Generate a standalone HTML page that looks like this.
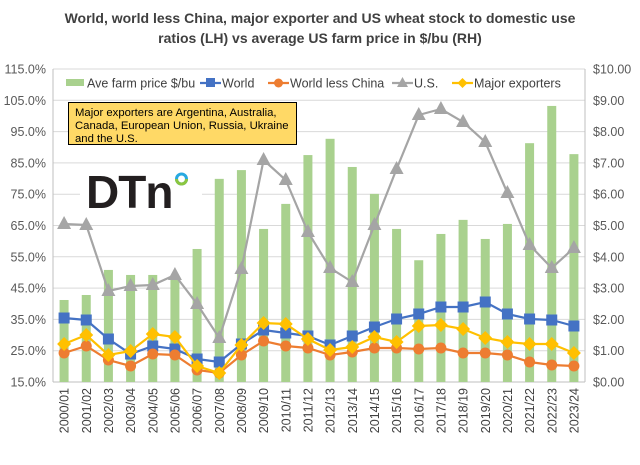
<!DOCTYPE html><html><head><style>body{margin:0;background:#fff}</style></head><body>
<svg id="s" width="640" height="460" xmlns="http://www.w3.org/2000/svg" font-family="Liberation Sans, sans-serif"></svg>
<script>
var s='';
s+='<rect width="640" height="460" fill="#fff"/>';
s+='<text x="320" y="23" text-anchor="middle" font-size="14" font-weight="bold" fill="#404040">World, world less China, major exporter and US wheat stock to  domestic use</text>';
s+='<text x="320" y="43" text-anchor="middle" font-size="14" font-weight="bold" fill="#404040">ratios (LH) vs average US farm price in $/bu (RH)</text>';
var x0=53,x1=585,yb=382,yt=69,step=(yb-yt)/10;
for(var i=0;i<=10;i++){var y=yb-i*step;
 if(i>0)s+='<line x1="'+x0+'" x2="'+x1+'" y1="'+y+'" y2="'+y+'" stroke="#d9d9d9"/>';
 s+='<text x="46" y="'+(y+4.5)+'" text-anchor="end" font-size="12.5" fill="#595959">'+(15+i*10)+'.0%</text>';
 s+='<text x="593" y="'+(y+4.5)+'" font-size="12.5" fill="#595959">$'+i+'.00</text>';}
s+='<line x1="'+x0+'" x2="'+x0+'" y1="'+yt+'" y2="'+yb+'" stroke="#bfbfbf"/><line x1="'+x1+'" x2="'+x1+'" y1="'+yt+'" y2="'+yb+'" stroke="#bfbfbf"/><line x1="'+x0+'" x2="'+x1+'" y1="'+yb+'" y2="'+yb+'" stroke="#bfbfbf"/>';
var price=[2.62,2.78,3.58,3.42,3.42,3.32,4.25,6.49,6.77,4.89,5.69,7.25,7.77,6.87,6.01,4.89,3.89,4.73,5.18,4.57,5.05,7.63,8.82,7.28];
var cw=(x1-x0)/24;function cx(i){return x0+cw*(i+0.5);}
for(var i=0;i<24;i++){var h=price[i]*step;s+='<rect x="'+(cx(i)-4.5)+'" y="'+(yb-h)+'" width="9" height="'+h+'" fill="#a9d18e"/>';
 var a=2000+i;var lab=a+'/'+String((a+1)%100).padStart(2,'0');
 s+='<text transform="translate('+(cx(i)+4.5)+',388) rotate(-90)" text-anchor="end" font-size="12.5" fill="#404040">'+lab+'</text>';}
var us=[224,225,291,286,285,275,304,338,269,160,180,232,268,282,225,169,115,109,122,142,193,245,268,248];
var wd=[318,320,339,354,346,349,359,362,344,330,333,336,345,336,327,319,314,307,307,302,314,319,320,326];
var wc=[353,346,360,366,354,355,370,373,355,341,346,348,355,352,348,348,349,348,353,353,355,362,365,366];
var mj=[344,335,355,351,334,337,366,373,345,323,324,339,350,347,337,342,326,325,329,338,342,344,344,353];
function pl(d,c){return '<polyline fill="none" stroke="'+c+'" stroke-width="2.2" points="'+d.map(function(y,i){return cx(i)+','+y}).join(' ')+'"/>';}
s+=pl(us,'#a5a5a5');
for(var i=0;i<24;i++)s+='<polygon points="'+cx(i)+','+(us[i]-8)+' '+(cx(i)-7)+','+(us[i]+5)+' '+(cx(i)+7)+','+(us[i]+5)+'" fill="#a5a5a5"/>';
s+=pl(wd,'#4472c4');
for(var i=0;i<24;i++)s+='<rect x="'+(cx(i)-5.5)+'" y="'+(wd[i]-5.5)+'" width="11" height="11" fill="#4472c4"/>';
s+=pl(wc,'#ed7d31');
for(var i=0;i<24;i++)s+='<circle cx="'+cx(i)+'" cy="'+wc[i]+'" r="5.5" fill="#ed7d31"/>';
s+=pl(mj,'#ffc000');
for(var i=0;i<24;i++)s+='<polygon points="'+cx(i)+','+(mj[i]-7)+' '+(cx(i)+7)+','+mj[i]+' '+cx(i)+','+(mj[i]+7)+' '+(cx(i)-7)+','+mj[i]+'" fill="#ffc000"/>';
var ly=83;
s+='<rect x="66" y="'+(ly-4)+'" width="18" height="7" fill="#a9d18e"/><text x="87" y="'+(ly+4.5)+'" font-size="12.5" fill="#404040">Ave farm price $/bu</text>';
s+='<line x1="200" x2="221" y1="'+ly+'" y2="'+ly+'" stroke="#4472c4" stroke-width="2.2"/><rect x="206" y="'+(ly-5)+'" width="9" height="9" fill="#4472c4"/><text x="222" y="'+(ly+4.5)+'" font-size="12.5" fill="#404040">World</text>';
s+='<line x1="268" x2="289" y1="'+ly+'" y2="'+ly+'" stroke="#ed7d31" stroke-width="2.2"/><circle cx="278.5" cy="'+ly+'" r="4.5" fill="#ed7d31"/><text x="290" y="'+(ly+4.5)+'" font-size="12.5" fill="#404040">World less China</text>';
s+='<line x1="392" x2="413" y1="'+ly+'" y2="'+ly+'" stroke="#a5a5a5" stroke-width="2.2"/><polygon points="402.5,'+(ly-6)+' 397,'+(ly+4)+' 408,'+(ly+4)+'" fill="#a5a5a5"/><text x="414" y="'+(ly+4.5)+'" font-size="12.5" fill="#404040">U.S.</text>';
s+='<line x1="452" x2="473" y1="'+ly+'" y2="'+ly+'" stroke="#ffc000" stroke-width="2.2"/><polygon points="462.5,'+(ly-5)+' 467.5,'+ly+' 462.5,'+(ly+5)+' 457.5,'+ly+'" fill="#ffc000"/><text x="474" y="'+(ly+4.5)+'" font-size="12.5" fill="#404040">Major exporters</text>';
s+='<rect x="68.5" y="102.5" width="228" height="42" fill="#ffd966" stroke="#000"/>';
s+='<text font-size="11.3" fill="#000"><tspan x="75" y="116">Major exporters are Argentina, Australia,</tspan><tspan x="75" y="129">Canada, European Union, Russia, Ukraine</tspan><tspan x="75" y="142">and the U.S.</tspan></text>';
s+='<rect x="80" y="165" width="122" height="50" fill="#fff"/>';
s+='<text x="86" y="208" font-size="46" font-weight="bold" fill="#231f20" letter-spacing="-1">DTn</text>';
s+='<circle cx="181.5" cy="179" r="5" fill="none" stroke="#27a9e1" stroke-width="3"/><path d="M176.5,179 a5,5 0 0 0 10,0" fill="none" stroke="#8cc63f" stroke-width="3"/>';
document.getElementById('s').innerHTML=s;
</script></body></html>
